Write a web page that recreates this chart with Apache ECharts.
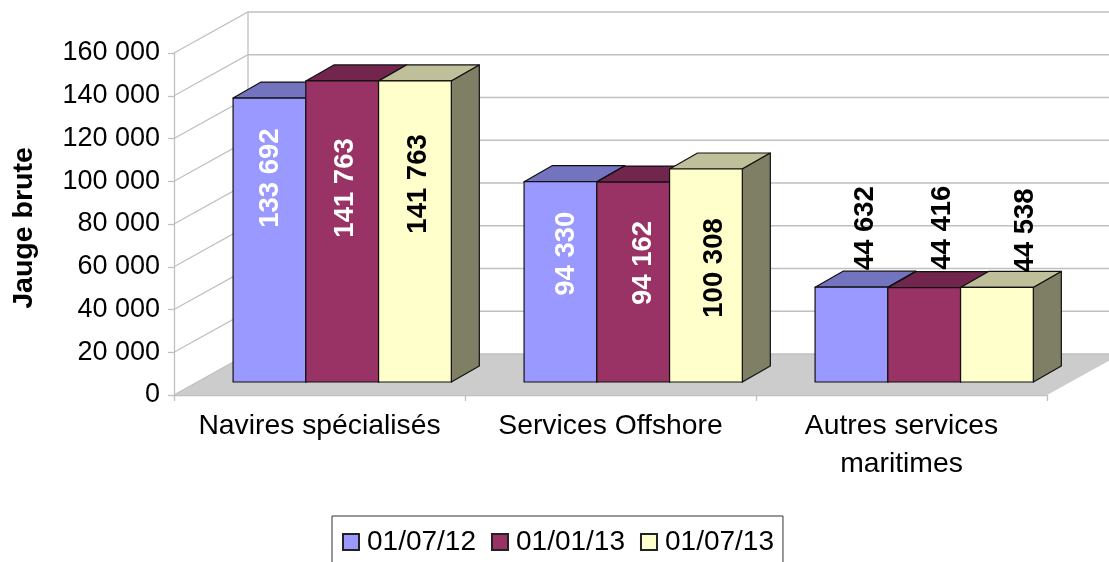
<!DOCTYPE html>
<html><head><meta charset="utf-8">
<style>html,body{margin:0;padding:0;background:#fff;overflow:hidden}#c{width:1109px;height:562px}</style>
<script src="https://cdn.jsdelivr.net/npm/echarts@6/dist/echarts.min.js"></script>
</head><body><div id="c"></div>
<script>
const categories = ['Navires spécialisés', 'Services Offshore', 'Autres services\nmaritimes'];
const seriesNames = ['01/07/12', '01/01/13', '01/07/13'];
const values0712 = [133692, 94330, 44632];
const values0113 = [141763, 94162, 44416];
const values0713 = [141763, 100308, 44538];
const ticks = [0, 20000, 40000, 60000, 80000, 100000, 120000, 140000, 160000];

const FONT = '"Liberation Sans", Arial, sans-serif';
const WALL = [74, -41], BASE = [22.7, -13], DEPTH = [28, -16], PERSPECTIVE = 0.9935;
// label anchor relative to the bar's top centre: [dx, dy] per series/category
const labelShift = [
  [[1, 80], [6, 72], [14, -59]],
  [[3, 107], [10, 81], [18, -60]],
  [[3, 103], [8, 99], [28, -57]]
];
const labelColours = [['#fff', '#fff', '#000'], ['#fff', '#fff', '#000'], ['#000', '#000', '#000']];
const faces = [
  {front: '#9999FF', top: '#7373BF', side: '#5C5C99'},
  {front: '#993366', top: '#73264D', side: '#5C1F3D'},
  {front: '#FFFFCC', top: '#BFBF99', side: '#7F7F66'}
];
const fmt = v => String(v).replace(/\B(?=(\d{3})+$)/g, '\u00a0');

function wall(params, api) {
  const v = api.value(0), cs = params.coordSys;
  const y = api.coord([0, v])[1], x0 = cs.x, x1 = cs.x + cs.width;
  const line = {stroke: '#C0C0C0', lineWidth: 1.3, fill: null};
  const kids = [{type: 'polyline', shape: {points: [[x0, y], [x0 + WALL[0], y + WALL[1]], [x1 + WALL[0], y + WALL[1]]]}, style: line}];
  if (v === 0) {
    kids.unshift({type: 'polygon', shape: {points: [[x0, y], [x0 + WALL[0], y + WALL[1]], [x1 + WALL[0], y + WALL[1]], [x1, y]]}, style: {fill: '#CCCCCC'}});
    kids.push({type: 'line', shape: {x1: x0 + WALL[0], y1: y + WALL[1], x2: x0 + WALL[0], y2: cs.y + WALL[1]}, style: line});
  }
  return {type: 'group', children: kids};
}

function barRenderer(s) {
  return function (params, api) {
    const c = api.value(0), v = api.value(1);
    const cw = api.size([1, 0])[0], w = cw / 4;
    const zero = api.coord([c, 0]), tip = api.coord([c, v]);
    const xl = zero[0] - cw / 2 + cw / 8 + w * s + BASE[0], xr = xl + w;
    const yb = zero[1] + BASE[1], yt = yb - (zero[1] - tip[1]) * PERSPECTIVE;
    const dx = DEPTH[0], dy = DEPTH[1], f = faces[s];
    const edge = {stroke: '#111', lineWidth: 1.2, lineJoin: 'round'};
    const sh = labelShift[s][c];
    return {type: 'group', children: [
      {type: 'polygon', z2: 10 + s, shape: {points: [[xl, yt], [xl + dx, yt + dy], [xr + dx, yt + dy], [xr, yt]]}, style: Object.assign({fill: f.top}, edge)},
      {type: 'polygon', z2: 10 + s, shape: {points: [[xr, yt], [xr + dx, yt + dy], [xr + dx, yb + dy], [xr, yb]]}, style: Object.assign({fill: f.side}, edge)},
      {type: 'rect', z2: 10 + s, shape: {x: xl, y: yt, width: w, height: yb - yt}, style: Object.assign({fill: f.front}, edge)},
      {type: 'text', z2: 50, x: xl + w / 2 + sh[0], y: yt + sh[1], rotation: Math.PI / 2,
        style: {text: fmt(v), x: 0, y: 0, align: 'center', verticalAlign: 'middle', fill: labelColours[s][c], font: 'bold 27.5px ' + FONT}}
    ]};
  };
}

const barSeries = [values0712, values0113, values0713].map((vals, s) => ({
  name: seriesNames[s], type: 'custom', z: 3,
  renderItem: barRenderer(s),
  itemStyle: {color: faces[s].front, borderColor: '#222', borderWidth: 1},
  data: vals.map((v, i) => [i, v]),
  encode: {x: 0, y: 1},
  animation: false
}));

const chart = echarts.init(document.getElementById('c'), null, {renderer: 'canvas'});
chart.setOption({
  animation: false,
  backgroundColor: '#fff',
  textStyle: {fontFamily: FONT},
  grid: {left: 174, top: 53, width: 873, height: 342, containLabel: false},
  legend: {
    left: 332, top: 516, data: seriesNames, icon: 'rect', itemWidth: 16, itemHeight: 16, itemGap: 15,
    padding: [12, 9, 14, 10], borderColor: '#333', borderWidth: 1, backgroundColor: '#fff',
    textStyle: {fontSize: 28, color: '#000', fontFamily: FONT, padding: [0, 0, 2, 3]}
  },
  xAxis: {
    type: 'category', data: categories,
    axisLine: {lineStyle: {color: '#C0C0C0', width: 1.3}},
    axisTick: {show: true, length: 6, lineStyle: {color: '#C0C0C0', width: 1.3}},
    axisLabel: {color: '#000', fontSize: 28.3, margin: 12, lineHeight: 38, interval: 0, fontFamily: FONT},
    splitLine: {show: false}
  },
  yAxis: {
    type: 'value', min: 0, max: 160000, interval: 20000,
    name: 'Jauge brute', nameLocation: 'middle', nameGap: 135, nameRotate: 90,
    nameTextStyle: {fontWeight: 'bold', fontSize: 28.5, color: '#000', fontFamily: FONT, padding: [0, 8, 0, 0]},
    axisLine: {show: true, lineStyle: {color: '#C0C0C0', width: 1.3}},
    axisTick: {show: true, length: 6, lineStyle: {color: '#C0C0C0', width: 1.3}},
    axisLabel: {color: '#000', fontSize: 27, margin: 14, padding: [2, 0, 0, 0], formatter: fmt, fontFamily: FONT},
    splitLine: {show: false}
  },
  series: [
    {type: 'custom', z: 1, silent: true, renderItem: wall, data: ticks.map(v => [v]), encode: {y: 0}, animation: false}
  ].concat(barSeries)
});
</script></body></html>
